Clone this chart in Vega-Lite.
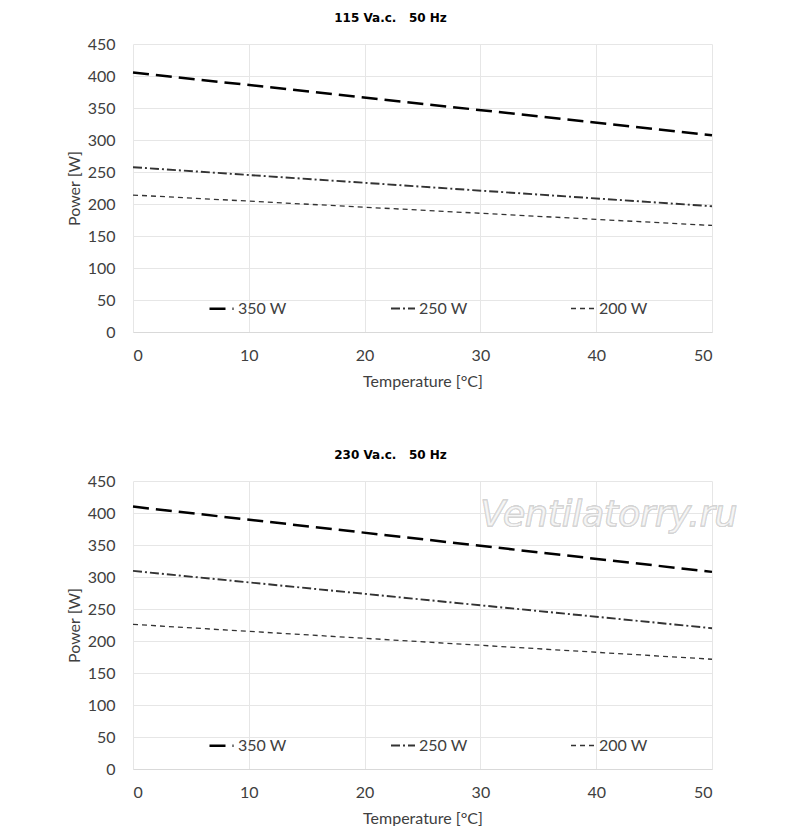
{
  "$schema": "https://vega.github.io/schema/vega-lite/v6.json",
  "background": "white",
  "padding": {"left": 66, "top": 12, "right": 10, "bottom": 0},
  "config": {
    "font": "Lato",
    "view": {"stroke": null},
    "axis": {
      "labelFont": "Lato",
      "labelFontSize": 16,
      "labelColor": "#404040",
      "labelOverlap": false,
      "titleFont": "Lato",
      "titleFontSize": 16,
      "titleFontWeight": "normal",
      "titleColor": "#404040",
      "gridColor": "#e6e6e6",
      "ticks": false,
      "domain": false
    },
    "title": {"font": "DejaVu Sans", "fontSize": 12, "fontWeight": "bold", "color": "#000000"},
    "legend": {
      "orient": "none",
      "direction": "horizontal",
      "legendX": 75,
      "legendY": 251,
      "title": null,
      "labelFont": "Lato",
      "labelFontSize": 16,
      "labelColor": "#404040",
      "labelOffset": 3,
      "columnPadding": 100,
      "symbolSize": 576,
      "symbolStrokeColor": "#000000"
    }
  },
  "data": {
    "values": [
      {"supply": "115", "series": "350 W", "temp": 0, "power": 405.5},
      {"supply": "115", "series": "350 W", "temp": 50, "power": 307.5},
      {"supply": "115", "series": "250 W", "temp": 0, "power": 257.5},
      {"supply": "115", "series": "250 W", "temp": 50, "power": 196.5},
      {"supply": "115", "series": "200 W", "temp": 0, "power": 214},
      {"supply": "115", "series": "200 W", "temp": 50, "power": 166.5},
      {"supply": "230", "series": "350 W", "temp": 0, "power": 410},
      {"supply": "230", "series": "350 W", "temp": 50, "power": 308},
      {"supply": "230", "series": "250 W", "temp": 0, "power": 309.5},
      {"supply": "230", "series": "250 W", "temp": 50, "power": 220},
      {"supply": "230", "series": "200 W", "temp": 0, "power": 226},
      {"supply": "230", "series": "200 W", "temp": 50, "power": 171.5}
    ]
  },
  "spacing": 60,
  "resolve": {"legend": {"strokeDash": "independent", "strokeWidth": "independent", "color": "independent"}},
  "vconcat": [
    {
      "width": 579,
      "height": 288,
      "title": {"text": "115 Va.c.\u00a0\u00a0 50 Hz", "dx": -32, "offset": 11},
      "transform": [{"filter": "datum.supply == '115'"}],
      "mark": {"type": "line"},
      "encoding": {
        "x": {
          "field": "temp", "type": "quantitative",
          "scale": {"domain": [0, 50]},
          "axis": {"values": [0, 10, 20, 30, 40, 50], "title": "Temperature [°C]", "labelPadding": 15, "titlePadding": 10, "domain": true, "domainColor": "#d9d9d9"}
        },
        "y": {
          "field": "power", "type": "quantitative",
          "scale": {"domain": [0, 450]},
          "axis": {"values": [0, 50, 100, 150, 200, 250, 300, 350, 400, 450], "title": "Power [W]", "labelPadding": 18, "titlePadding": 5}
        },
        "strokeDash": {
          "field": "series", "type": "nominal",
          "scale": {"domain": ["350 W", "250 W", "200 W"], "range": [[16, 7], [9, 3, 2, 3], [5, 4]]}
        },
        "strokeWidth": {
          "field": "series", "type": "nominal",
          "scale": {"domain": ["350 W", "250 W", "200 W"], "range": [2.5, 1.3, 1.5]}
        },
        "color": {
          "field": "series", "type": "nominal",
          "scale": {"domain": ["350 W", "250 W", "200 W"], "range": ["#000000", "#333333", "#333333"]}
        }
      }
    },
    {
      "width": 579,
      "height": 288,
      "title": {"text": "230 Va.c.\u00a0\u00a0 50 Hz", "dx": -32, "offset": 11},
      "transform": [{"filter": "datum.supply == '230'"}],
      "layer": [
        {
          "mark": {"type": "line"},
          "encoding": {
            "x": {
              "field": "temp", "type": "quantitative",
              "scale": {"domain": [0, 50]},
              "axis": {"values": [0, 10, 20, 30, 40, 50], "title": "Temperature [°C]", "labelPadding": 15, "titlePadding": 10, "domain": true, "domainColor": "#d9d9d9"}
            },
            "y": {
              "field": "power", "type": "quantitative",
              "scale": {"domain": [0, 450]},
              "axis": {"values": [0, 50, 100, 150, 200, 250, 300, 350, 400, 450], "title": "Power [W]", "labelPadding": 18, "titlePadding": 5}
            },
            "strokeDash": {
              "field": "series", "type": "nominal",
              "scale": {"domain": ["350 W", "250 W", "200 W"], "range": [[16, 7], [9, 3, 2, 3], [5, 4]]}
            },
            "strokeWidth": {
              "field": "series", "type": "nominal",
              "scale": {"domain": ["350 W", "250 W", "200 W"], "range": [2.5, 1.3, 1.5]}
            },
            "color": {
              "field": "series", "type": "nominal",
              "scale": {"domain": ["350 W", "250 W", "200 W"], "range": ["#000000", "#333333", "#333333"]}
            }
          }
        },
        {
          "mark": {"type": "text", "text": "Ventilatorry.ru", "align": "left", "baseline": "middle", "font": "DejaVu Sans", "fontSize": 36, "fontStyle": "italic", "fill": "#f6f6f6", "stroke": "#d4d4d4", "strokeWidth": 0.8},
          "encoding": {
            "x": {
              "datum": 30, "type": "quantitative",
              "axis": {"values": [0, 10, 20, 30, 40, 50], "title": "Temperature [°C]", "labelPadding": 15, "titlePadding": 10, "domain": true, "domainColor": "#d9d9d9"}
            },
            "y": {
              "datum": 397, "type": "quantitative",
              "axis": {"values": [0, 50, 100, 150, 200, 250, 300, 350, 400, 450], "title": "Power [W]", "labelPadding": 18, "titlePadding": 5}
            }
          }
        }
      ]
    }
  ]
}
